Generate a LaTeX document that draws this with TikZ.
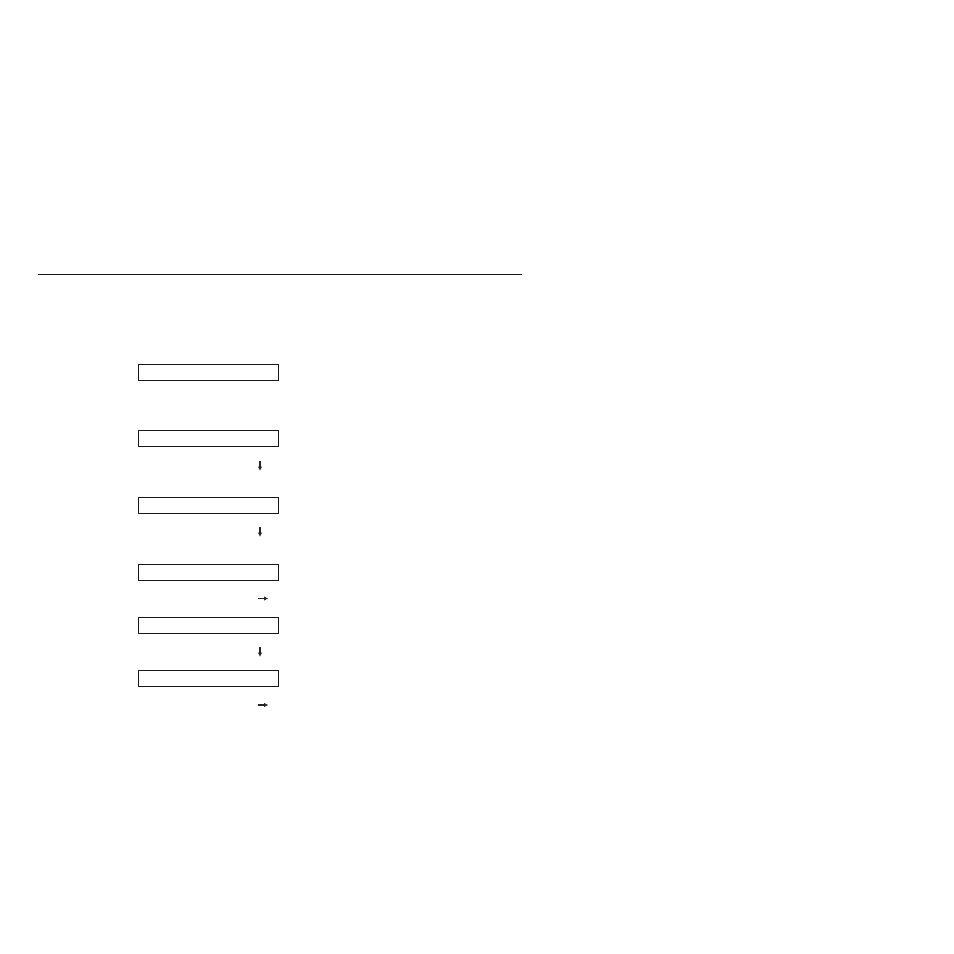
\documentclass[tikz,border=0pt]{standalone}
\usetikzlibrary{arrows.meta}
\begin{document}
\begin{tikzpicture}[x=1pt,y=-1pt,
  stepbox/.style={draw=black!90,line width=0.9pt,minimum width=140pt,minimum height=16pt,inner sep=0pt,anchor=north west},
  tinyarrow/.style={draw=black!85,line width=1.6pt,-{Latex[length=4.5pt,width=4.5pt]}},
  rule/.style={draw=black!90,line width=1pt}]
\useasboundingbox (0,0) rectangle (954,954);
\coordinate (rl) at (38,274);
\coordinate (rr) at (522,274);
\draw[rule] (rl) -- (rr);
\node[stepbox] (b1) at (138,363.5) {};
\node[stepbox] (b2) at (138,429.5) {};
\node[stepbox] (b3) at (138,496.5) {};
\node[stepbox] (b4) at (138,563.5) {};
\node[stepbox] (b5) at (138,616.5) {};
\node[stepbox] (b6) at (138,669.5) {};
\coordinate (a1s) at (260,461);
\coordinate (a1e) at (260,471);
\coordinate (a2s) at (260,527);
\coordinate (a2e) at (260,537);
\coordinate (a3s) at (257.5,598.5);
\coordinate (a3e) at (268.5,598.5);
\coordinate (a4s) at (260,647);
\coordinate (a4e) at (260,657);
\coordinate (a5s) at (257.5,705);
\coordinate (a5e) at (268.5,705);
\draw[tinyarrow] (a1s) -- (a1e);
\draw[tinyarrow] (a2s) -- (a2e);
\draw[tinyarrow] (a3s) -- (a3e);
\draw[tinyarrow] (a4s) -- (a4e);
\draw[tinyarrow] (a5s) -- (a5e);
\end{tikzpicture}
\end{document}
